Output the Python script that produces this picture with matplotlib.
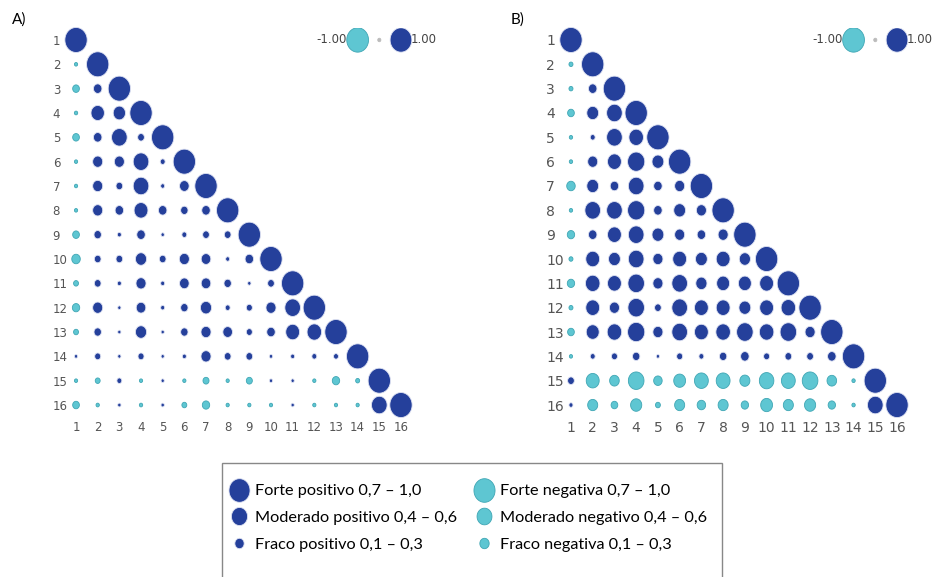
import matplotlib.pyplot as plt
import numpy as np
from matplotlib.lines import Line2D
from matplotlib.path import Path
from matplotlib.patches import Rectangle

plt.rcParams['font.family'] = ['Lato', 'DejaVu Sans']

labels = [str(i) for i in range(1, 17)]

# lower triangle, rows 2..16, columns 1..row-1 (diagonal = 1)
corr_a = [
    [-0.10],
    [-0.30, 0.38],
    [-0.15, 0.60, 0.55],
    [-0.30, 0.38, 0.70, 0.30],
    [-0.12, 0.45, 0.45, 0.70, 0.22],
    [-0.08, 0.45, 0.30, 0.70, 0.18, 0.43],
    [-0.07, 0.45, 0.38, 0.62, 0.38, 0.33, 0.38],
    [-0.30, 0.33, 0.18, 0.38, 0.15, 0.22, 0.30, 0.30],
    [-0.38, 0.30, 0.30, 0.50, 0.30, 0.45, 0.43, 0.18, 0.38],
    [-0.22, 0.30, 0.18, 0.45, 0.18, 0.43, 0.43, 0.33, 0.15, 0.30],
    [-0.33, 0.45, 0.12, 0.43, 0.18, 0.33, 0.50, 0.22, 0.27, 0.45, 0.70],
    [-0.22, 0.33, 0.10, 0.50, 0.10, 0.33, 0.45, 0.43, 0.27, 0.38, 0.62, 0.65],
    [0.07, 0.27, 0.08, 0.27, 0.08, 0.18, 0.45, 0.30, 0.30, 0.15, 0.18, 0.22, 0.22],
    [-0.07, -0.22, 0.22, -0.12, 0.12, -0.05, -0.27, -0.05, -0.27, 0.06, 0.08, -0.06, -0.33, -0.18],
    [-0.30, -0.15, 0.15, -0.15, 0.15, -0.22, -0.33, -0.05, -0.12, -0.07, 0.07, -0.07, -0.12, -0.12, 0.70],
]

corr_b = [
    [-0.18],
    [-0.18, 0.38],
    [-0.30, 0.53, 0.70],
    [-0.15, 0.22, 0.70, 0.65],
    [-0.15, 0.45, 0.62, 0.77, 0.53],
    [-0.38, 0.53, 0.38, 0.70, 0.38, 0.45],
    [-0.15, 0.70, 0.70, 0.77, 0.38, 0.53, 0.45],
    [-0.33, 0.38, 0.62, 0.70, 0.53, 0.45, 0.38, 0.45],
    [-0.18, 0.62, 0.53, 0.70, 0.45, 0.62, 0.53, 0.62, 0.50],
    [-0.33, 0.65, 0.62, 0.74, 0.45, 0.70, 0.50, 0.58, 0.58, 0.62],
    [-0.18, 0.62, 0.45, 0.74, 0.30, 0.70, 0.62, 0.62, 0.53, 0.62, 0.65],
    [-0.30, 0.58, 0.65, 0.77, 0.45, 0.70, 0.62, 0.65, 0.74, 0.65, 0.74, 0.45],
    [-0.10, 0.22, 0.27, 0.33, 0.12, 0.27, 0.22, 0.33, 0.38, 0.27, 0.30, 0.30, 0.38],
    [0.30, -0.58, -0.43, -0.70, -0.38, -0.53, -0.62, -0.62, -0.45, -0.65, -0.62, -0.70, -0.43, -0.15],
    [0.18, -0.45, -0.30, -0.50, -0.22, -0.45, -0.38, -0.45, -0.33, -0.53, -0.45, -0.50, -0.33, -0.15, 0.70],
]

scale_vals = [-1.0, 0.0, 1.0]
scale_text = ['-1.00', '1.00']

legend_labels = ['Forte positivo 0,7 – 1,0', 'Moderado positivo 0,4 – 0,6', 'Fraco positivo 0,1 – 0,3',
                 'Forte negativa 0,7 – 1,0', 'Moderado negativo 0,4 – 0,6', 'Fraco negativa 0,1 – 0,3']
legend_sizes = [17, 13, 7.5, 17, 12, 7.5]

POS = '#25409b'
NEG = '#5ec6d2'
POS_EDGE = '#dfe3f3'
NEG_EDGE = '#3fa6b4'
DIAG = 18.0   # marker height in points for |r| = 1
DMIN = 2.6    # smallest visible dot

# slightly tall ellipse, like the source image
t = np.linspace(0, 2 * np.pi, 60)
ELL = Path(np.column_stack([np.cos(t), 1.12 * np.sin(t)]), closed=True)


def full_matrix(rows):
    m = np.eye(16)
    for i, row in enumerate(rows, start=1):
        m[i, :i] = row
    return m


def sizes(v):
    return np.maximum(DIAG * np.abs(v), DMIN) ** 2


def draw_panel(ax, rows, fs, lab_pad):
    m = full_matrix(rows)
    ii, jj = np.tril_indices(16)
    v = m[ii, jj]
    ax.scatter(jj + 1, ii + 1, s=sizes(v), c=np.where(v >= 0, POS, NEG), marker=ELL,
               edgecolors=np.where(v >= 0, POS_EDGE, NEG_EDGE), linewidths=0.6,
               clip_on=False, zorder=3)
    # colour scale at top right
    sv = np.array(scale_vals)
    ax.scatter([14, 15, 16], [1, 1, 1], s=sizes(sv) * 0.95, marker=ELL,
               c=[NEG, '#bbbbbb', POS], edgecolors=[NEG_EDGE, '#bbbbbb', POS_EDGE],
               linewidths=0.6, zorder=3)
    ax.text(13.5, 1, scale_text[0], ha='right', va='center', fontsize=8.5,
            color='#444444', family='DejaVu Sans')
    ax.text(16.45, 1, scale_text[1], ha='left', va='center', fontsize=8.5,
            color='#444444', family='DejaVu Sans')
    ax.set_xlim(0.5, 16.5)
    ax.set_ylim(16.5, 0.5)
    ax.set_xticks(range(1, 17))
    ax.set_yticks(range(1, 17))
    ax.set_xticklabels(labels, fontsize=fs, color='#555555', family='DejaVu Sans')
    ax.set_yticklabels(labels, fontsize=fs, color='#555555', family='DejaVu Sans')
    for tl in ax.get_yticklabels():
        tl.set_horizontalalignment('left')
    ax.tick_params(length=0)
    ax.tick_params(axis='y', pad=lab_pad)
    ax.tick_params(axis='x', pad=3)
    for sp in ax.spines.values():
        sp.set_visible(False)


W, H = 938, 577
fig = plt.figure(figsize=(W / 100, H / 100), dpi=100)

ax_a = fig.add_axes([65.2 / W, 1 - 417.2 / H, 346.6 / W, 389.4 / H])
ax_b = fig.add_axes([560.1 / W, 1 - 417.2 / H, 347.8 / W, 389.4 / H])
draw_panel(ax_a, corr_a, 8.5, 9)
draw_panel(ax_b, corr_b, 10, 10)

fig.text(12 / W, 1 - 20 / H, 'A)', fontsize=11, va='center')
fig.text(511 / W, 1 - 20 / H, 'B)', fontsize=11, va='center')

# legend box
fig.patches.append(Rectangle((222 / W, -2 / H), 500 / W, (H - 463 + 2) / H,
                             transform=fig.transFigure, fill=False,
                             edgecolor='#888888', linewidth=1.0))

handles = []
for k, ms in enumerate(legend_sizes):
    col, edge = (POS, POS_EDGE) if k < 3 else (NEG, NEG_EDGE)
    handles.append(Line2D([], [], ls='none', marker=ELL, markersize=ms,
                          markerfacecolor=col, markeredgecolor=edge, markeredgewidth=0.6))
leg = fig.legend(handles, legend_labels, ncol=2, loc='upper left',
                 bbox_to_anchor=(231 / W, 1 - 484 / H), frameon=False,
                 fontsize=11.7, borderpad=0, labelspacing=0.75,
                 handlelength=1.0, handletextpad=0.5, columnspacing=1.1, borderaxespad=0)

fig.savefig('out.png', dpi=100)
